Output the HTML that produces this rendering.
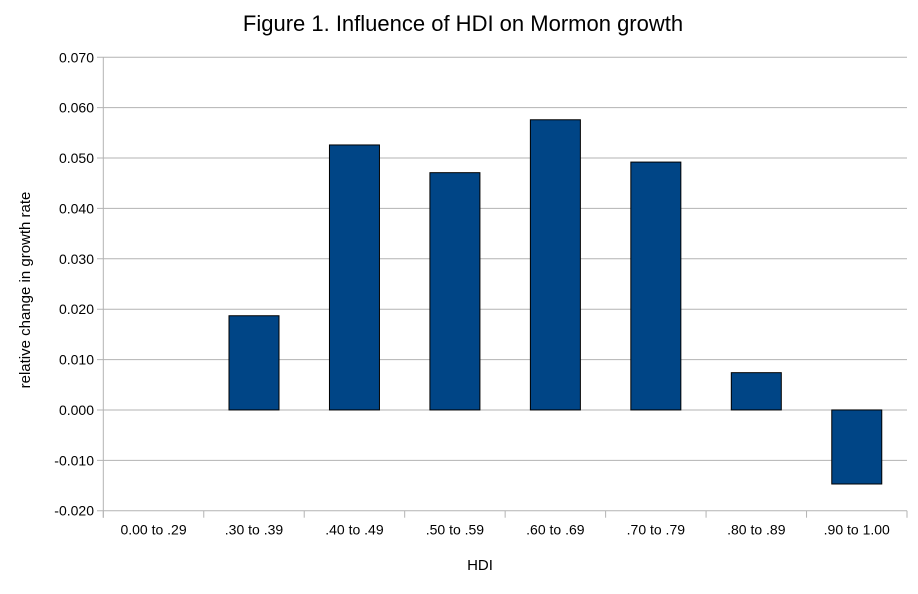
<!DOCTYPE html>
<html><head><meta charset="utf-8"><style>
body{margin:0;background:#fff;font-family:"Liberation Sans",sans-serif}
</style></head><body>
<svg id="chart" width="918" height="589" xmlns="http://www.w3.org/2000/svg" font-family="Liberation Sans, sans-serif">
<rect width="918" height="589" fill="#fff"/>
<text x="463" y="31" font-size="22" text-anchor="middle">Figure 1. Influence of HDI on Mormon growth</text>
<text x="480" y="570" font-size="15" text-anchor="middle">HDI</text>
<text transform="translate(30,290) rotate(-90)" font-size="15" text-anchor="middle">relative change in growth rate</text>
<g id="grid"></g><g id="bars"></g><g id="axes"></g>
</svg>
<script>
const categories=["0.00 to .29",".30 to .39",".40 to .49",".50 to .59",".60 to .69",".70 to .79",".80 to .89",".90 to 1.00"];
const values=[null,0.0187,0.0526,0.0471,0.0576,0.0492,0.0074,-0.0147];
const yTicks=[-0.02,-0.01,0,0.01,0.02,0.03,0.04,0.05,0.06,0.07];
const yTickLabels=["-0.020","-0.010","0.000","0.010","0.020","0.030","0.040","0.050","0.060","0.070"];
const NS="http://www.w3.org/2000/svg";
const X0=103.3,X1=907,Y0=510.7,Y1=57.3,ymin=-0.02,ymax=0.07;
const y=v=>Y0-(v-ymin)/(ymax-ymin)*(Y0-Y1);
const cw=(X1-X0)/categories.length;
const x=i=>X0+i*cw;
function mk(tag,attrs,parent){const e=document.createElementNS(NS,tag);for(const k in attrs)e.setAttribute(k,attrs[k]);document.getElementById(parent).appendChild(e);return e;}
yTicks.forEach((t,i)=>{
 const g=mk('line',{x1:97,x2:X1,y1:y(t),y2:y(t),stroke:'#b3b3b3','stroke-width':1},'grid');
 
 
 const l=mk('text',{x:94,y:y(t)+5,'font-size':14,'text-anchor':'end'},'axes');
 l.textContent=yTickLabels[i];
 
 
});
const ax=mk('line',{x1:X0,x2:X0,y1:Y1,y2:Y0+7,stroke:'#b3b3b3','stroke-width':1},'axes');


for(let i=0;i<=categories.length;i++){
 const t=mk('line',{x1:x(i),x2:x(i),y1:Y0,y2:Y0+7,stroke:'#b3b3b3','stroke-width':1},'axes');
 
 
}
categories.forEach((c,i)=>{
 const l=mk('text',{x:x(i)+cw/2,y:Y0+24,'font-size':14,'text-anchor':'middle'},'axes');
 l.textContent=c;
 
 
 const v=values[i];
 if(v===null)return;
 const top=Math.min(y(v),y(0)),h=Math.abs(y(v)-y(0));
 const b=mk('rect',{x:x(i)+cw/2-25,y:top,width:50,height:h,fill:'#004586',stroke:'#000','stroke-width':1},'bars');
 
 
});
</script>
</body></html>
